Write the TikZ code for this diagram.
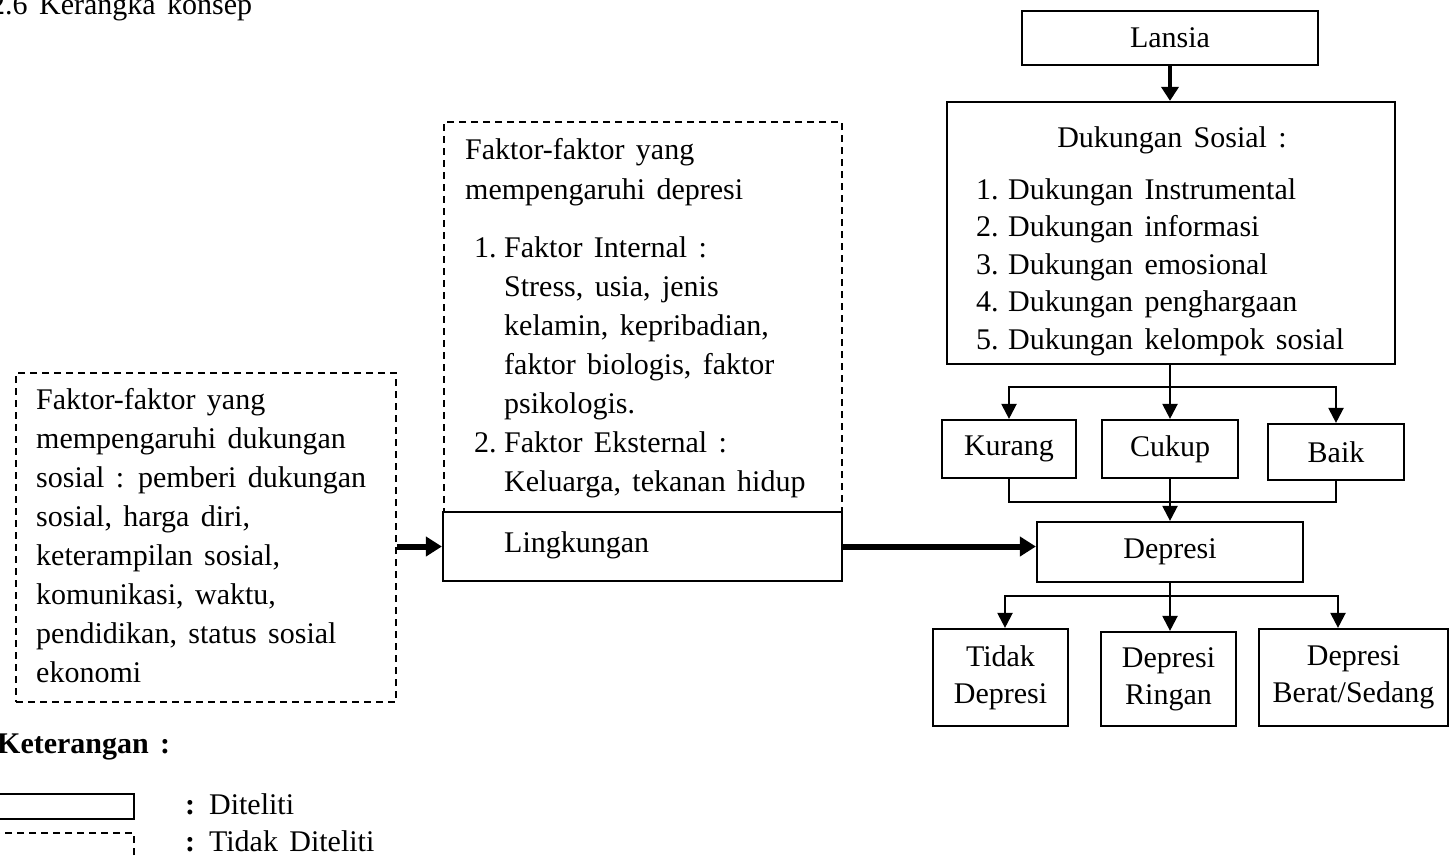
\documentclass[tikz,border=0pt]{standalone}
\usepackage{fontspec}
\setmainfont{Liberation Serif}
\usetikzlibrary{arrows.meta,calc}
\newcommand\txtfont{\fontsize{30}{39}\selectfont\spaceskip=0.38em plus 0.1em\relax}
\newcommand\numbox[2]{\makebox[#1][l]{#2}}
\newcommand\tp{\rule{0pt}{21.5pt}}
\begin{document}
\begin{tikzpicture}[x=1pt,y=-1pt,
  box/.style={draw,line width=2.2pt,inner sep=0pt,font=\txtfont},
  dbox/.style={draw,line width=2pt,dash pattern=on 7pt off 5pt,inner sep=0pt},
  txt/.style={inner sep=0pt,font=\txtfont},
  tline/.style={line width=2.2pt,line cap=rect},
  tarrow/.style={line width=2.2pt,-{Triangle[width=15pt,length=15pt]}},
  Larrow/.style={line width=4pt,-{Triangle[width=17pt,length=14pt]}},
  Tarrow/.style={line width=6pt,-{Triangle[width=19pt,length=16pt]}}]
\path[fill=white] (0,0) rectangle (1450,855);
\useasboundingbox (0,0) rectangle (1450,855);

% title
\node[txt,anchor=base west] (title) at (-10,14) {2.6 Kerangka konsep};

% right column boxes
\node[box,minimum width=296pt,minimum height=54pt] (lansia) at (1170,38) {Lansia};
\node[box,minimum width=448pt,minimum height=262pt] (dukungan) at (1171,233) {};
\node[txt,anchor=base] (dukh) at (1172,147) {Dukungan Sosial :};
\node[txt,anchor=north west,align=left,font={\txtfont\baselineskip=37.5pt}] (dukl) at (976,177.5)
 {\tp\numbox{32pt}{1.}Dukungan Instrumental\\
  \numbox{32pt}{2.}Dukungan informasi\\
  \numbox{32pt}{3.}Dukungan emosional\\
  \numbox{32pt}{4.}Dukungan penghargaan\\
  \numbox{32pt}{5.}Dukungan kelompok sosial};

\node[box,minimum width=134pt,minimum height=58pt] (kurang) at (1009,449) {Kurang};
\node[box,minimum width=136pt,minimum height=58pt] (cukup) at (1170,449) {Cukup};
\node[box,minimum width=136pt,minimum height=56pt] (baik) at (1336,452) {Baik};

\node[box,minimum width=266pt,minimum height=60pt] (depresi) at (1170,552) {Depresi};

\node[box,align=center,font={\txtfont\baselineskip=37pt},minimum width=135pt,minimum height=97pt] (tidak) at (1000.5,677.5) {Tidak\\Depresi};
\node[box,align=center,font={\txtfont\baselineskip=37pt},minimum width=135pt,minimum height=94pt] (ringan) at (1168.5,679) {Depresi\\Ringan};
\node[box,align=center,font={\txtfont\baselineskip=37pt},minimum width=189pt,minimum height=97pt] (berat) at (1353.5,677.5) {Depresi\\Berat/Sedang};

% middle dashed box + Lingkungan
\node[dbox,minimum width=398pt,minimum height=390pt] (faktor) at (643,317) {};
\node[txt,anchor=north west,align=left,font={\txtfont\baselineskip=40pt}] (fakh) at (465,137.5)
 {\tp Faktor-faktor yang\\mempengaruhi depresi};
\node[txt,anchor=north west,align=left] (fakl) at (474,235.5)
 {\tp\numbox{30pt}{1.}Faktor Internal :\\
  \hspace*{30pt}Stress, usia, jenis\\
  \hspace*{30pt}kelamin, kepribadian,\\
  \hspace*{30pt}faktor biologis, faktor\\
  \hspace*{30pt}psikologis.\\
  \numbox{30pt}{2.}Faktor Eksternal :\\
  \hspace*{30pt}Keluarga, tekanan hidup};
\node[box,fill=white,minimum width=399pt,minimum height=69pt] (lingk) at (642.5,546.5) {};
\node[txt,anchor=base west] (lingkt) at (504,552) {Lingkungan};

% left dashed box
\node[dbox,minimum width=380pt,minimum height=329pt] (kiri) at (206,537.5) {};
\node[txt,anchor=north west,align=left] (kirit) at (36,387.5)
 {\tp Faktor-faktor yang\\
  mempengaruhi dukungan\\
  sosial : pemberi dukungan\\
  sosial, harga diri,\\
  keterampilan sosial,\\
  komunikasi, waktu,\\
  pendidikan, status sosial\\
  ekonomi};

% connectors
\draw[Larrow] (lansia.south) -- (dukungan.north -| lansia.south);
\coordinate (j1) at (1170,387);
\draw[tline] (dukungan.south -| j1) -- (j1);
\draw[tline] (j1 -| kurang) -- (j1 -| baik);
\draw[tarrow] (j1 -| kurang) -- (kurang.north);
\draw[tarrow] (j1) -- (cukup.north);
\draw[tarrow] (j1 -| baik) -- (baik.north);
\coordinate (j2) at (1170,502);
\draw[tline] (kurang.south) |- (j2) -| (baik.south);
\draw[tarrow] (cukup.south) -- (depresi.north);
\coordinate (j3) at (1170,596);
\coordinate (a1) at (1005,596);
\coordinate (a3) at (1338,596);
\draw[tline] (depresi.south) -- (j3);
\draw[tline] (a1) -- (a3);
\draw[tarrow] (a1) -- (a1 |- tidak.north);
\draw[tarrow] (j3) -- (ringan.north -| j3);
\draw[tarrow] (a3) -- (a3 |- berat.north);

\draw[Tarrow] (kiri.east |- lingk) -- (lingk.west);
\draw[Tarrow] (lingk.east) -- (lingk.east -| depresi.west);

% legend
\node[txt,anchor=base west,font=\txtfont\bfseries] (ket) at (-3,753) {Keterangan :};
\node[box,minimum width=150pt,minimum height=25pt] (legs) at (59,806.5) {};
\node[dbox,minimum width=150pt,minimum height=40pt] (legd) at (59,853) {};
\node[txt,anchor=base west] (legst) at (185,814) {\textbf{:} Diteliti};
\node[txt,anchor=base west] (legdt) at (185,851) {\textbf{:} Tidak Diteliti};
\end{tikzpicture}
\end{document}
